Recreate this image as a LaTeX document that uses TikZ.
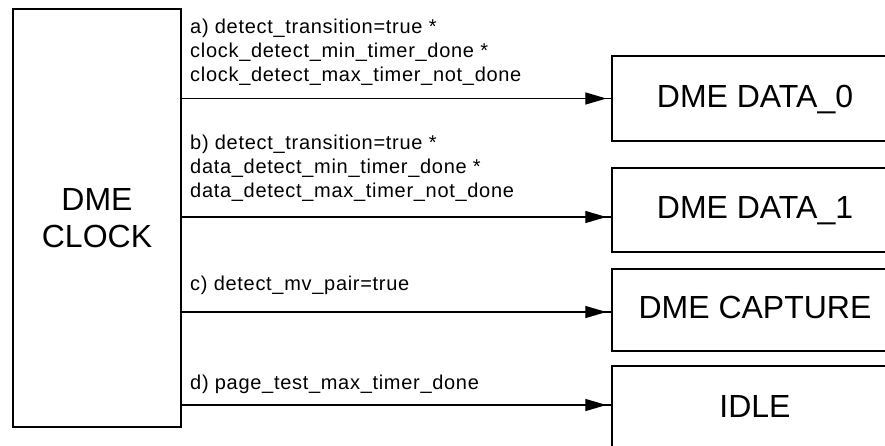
\documentclass[tikz,border=0pt]{standalone}
\usepackage{fontspec}
\setmainfont{Liberation Sans}
\newfontfamily\lblfont{Liberation Sans}[LetterSpace=3.5]
\usetikzlibrary{arrows.meta,decorations.markings}
\begin{document}
\begin{tikzpicture}[x=1pt,y=-1pt,
  box/.style={draw,line width=1.3pt,minimum width=286pt,inner sep=0pt,
    font=\fontsize{32pt}{37pt}\selectfont,text height=23pt,text depth=6pt},
  lbl/.style={anchor=base west,inner sep=0pt,font=\lblfont\fontsize{20pt}{24pt}\selectfont},
  conn/.style={line width=1.2pt,postaction={decorate},
    decoration={markings,mark=at position -5pt with {\arrow{Triangle[length=21pt,width=12pt]}}}}
]
\useasboundingbox (0,0) rectangle (885,445);
\clip (0,0) rectangle (885,445);
\fill[white] (0,0) rectangle (885,445);

\node[draw,line width=1.3pt,minimum width=168pt,minimum height=418pt,inner sep=0pt,
  align=center,font=\fontsize{32pt}{37pt}\selectfont] (clock) at (97,218) {DME\\CLOCK};

\node[box,minimum height=85pt] (d0) at (755,98.5) {DME DATA\_0};
\node[box,minimum height=84pt] (d1) at (755,210) {DME DATA\_1};
\node[box,minimum height=82pt] (cap) at (755,310) {DME CAPTURE};
\node[box,minimum height=85pt] (idle) at (755,408.5) {IDLE};

\coordinate (ta) at (d0.west);
\coordinate (tb) at ([yshift=-7pt]d1.west);
\coordinate (tc) at ([yshift=-2pt]cap.west);
\coordinate (td) at ([yshift=3.5pt]idle.west);

\draw[conn] (clock.east |- ta) -- (ta);
\draw[conn] (clock.east |- tb) -- (tb);
\draw[conn] (clock.east |- tc) -- (tc);
\draw[conn] (clock.east |- td) -- (td);

\node[lbl] (la1) at (190,33) {a) detect\_transition=true *};
\node[lbl] (la2) at (190,57) {clock\_detect\_min\_timer\_done *};
\node[lbl] (la3) at (190,81) {clock\_detect\_max\_timer\_not\_done};
\node[lbl] (lb1) at (190,149) {b) detect\_transition=true *};
\node[lbl] (lb2) at (190,173) {data\_detect\_min\_timer\_done *};
\node[lbl] (lb3) at (190,197) {data\_detect\_max\_timer\_not\_done};
\node[lbl] (lc1) at (190,290) {c) detect\_mv\_pair=true};
\node[lbl] (ld1) at (190,389) {d) page\_test\_max\_timer\_done};
\end{tikzpicture}
\end{document}
